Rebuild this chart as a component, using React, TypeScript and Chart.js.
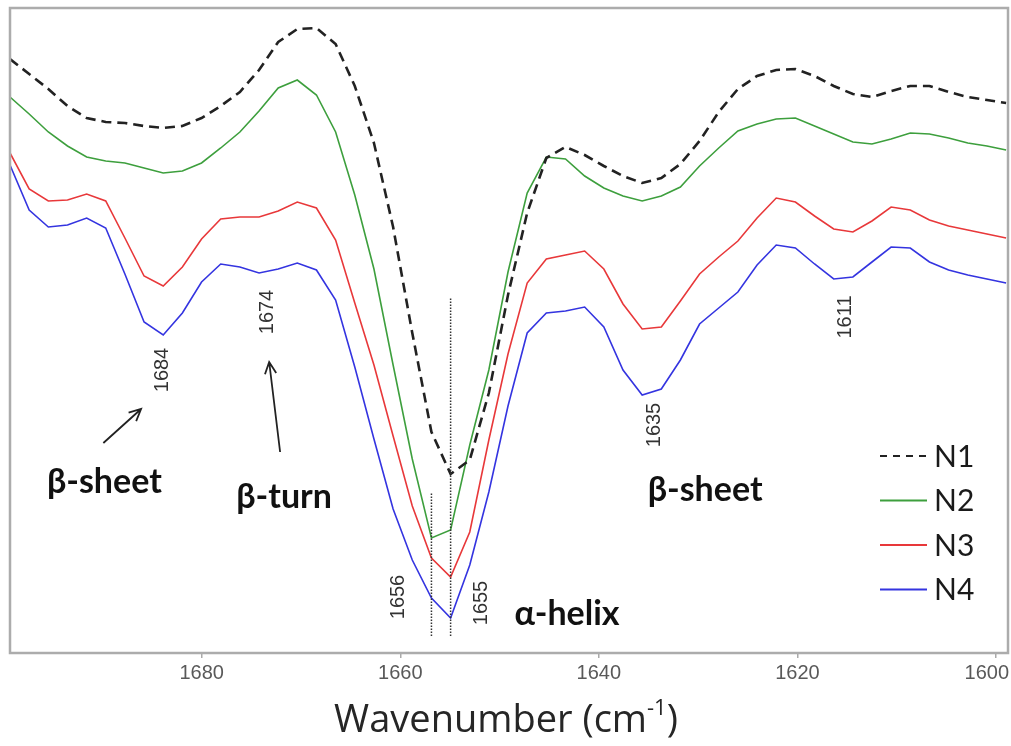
import React, { useEffect, useRef } from 'react';
import { Chart, registerables } from 'chart.js';

Chart.register(...registerables);

// Wavenumber grid (cm-1)
const wavenumbers = [
  1699.30, 1697.37, 1695.44, 1693.51, 1691.58, 1689.66, 1687.73, 1685.80, 1683.87, 1681.94,
  1680.01, 1678.08, 1676.15, 1674.22, 1672.29, 1670.37, 1668.44, 1666.51, 1664.58, 1662.65,
  1660.72, 1658.79, 1656.86, 1654.93, 1653.00, 1651.08, 1649.15, 1647.22, 1645.29, 1643.36,
  1641.43, 1639.50, 1637.57, 1635.64, 1633.71, 1631.79, 1629.86, 1627.93, 1626.00, 1624.07,
  1622.14, 1620.21, 1618.28, 1616.35, 1614.42, 1612.50, 1610.57, 1608.64, 1606.71, 1604.78,
  1602.85, 1600.92, 1598.99,
];

// Second-derivative style intensities (arbitrary units)
const n1 = [
  594, 579, 564, 547, 535, 531, 530, 527, 525, 527,
  535, 547, 561, 583, 611, 624, 625, 609, 567, 510,
  426, 320, 221, 179, 193, 260, 358, 440, 495, 506,
  498, 487, 477, 470, 475, 489, 512, 541, 564, 577,
  583, 584, 577, 567, 559, 556, 562, 567, 567, 561,
  556, 553, 550,
];
const n2 = [
  556, 539, 521, 507, 496, 492, 490, 485, 480, 482,
  490, 505, 521, 542, 565, 573, 558, 521, 458, 384,
  288, 194, 115, 123, 208, 283, 381, 460, 496, 494,
  477, 465, 457, 452, 457, 466, 487, 505, 522, 529,
  534, 535, 527, 519, 511, 509, 514, 520, 519, 515,
  510, 507, 503,
];
const n3 = [
  500, 464, 452, 453, 459, 452, 415, 377, 367, 386,
  414, 434, 436, 436, 442, 451, 445, 413, 350, 288,
  217, 147, 95, 76, 121, 213, 299, 370, 394, 398,
  402, 384, 349, 324, 326, 352, 379, 396, 412, 435,
  455, 451, 437, 424, 421, 432, 446, 443, 433, 427,
  423, 419, 415,
];
const n4 = [
  488, 443, 426, 428, 435, 425, 379, 331, 318, 340,
  371, 389, 386, 380, 384, 390, 383, 353, 286, 214,
  144, 93, 55, 35, 88, 161, 247, 320, 340, 342,
  346, 326, 283, 258, 264, 293, 329, 345, 361, 388,
  408, 405, 389, 374, 376, 391, 406, 405, 391, 383,
  378, 374, 370,
];

const seriesLabels = ['N1', 'N2', 'N3', 'N4'];
const xTicks = [1680, 1660, 1640, 1620, 1600];
const peakLabels = ['1684', '1674', '1656', '1655', '1635', '1611'];
const regionLabels = ['β-sheet', 'β-turn', 'α-helix', 'β-sheet'];

const peakPos = [
  [1683.9, 283], [1673.4, 341], [1660.2, 56], [1651.8, 50], [1634.4, 228], [1615.2, 336],
];
const regionPos = [
  [1689.8, 171], [1671.7, 156], [1643.2, 39], [1629.3, 163],
];
const arrows = [
  [1689.9, 210, 1686.1, 244],
  [1672.1, 201, 1673.2, 291],
];
const dottedLines = [
  [1656.86, 17, 161],
  [1654.93, 17, 356],
];

const colors = ['#222222', '#3d9f3d', '#e8383a', '#3434e0'];

const annotPlugin = {
  id: 'annot',
  afterDraw(chart: any) {
    const { ctx, chartArea } = chart;
    const xs = chart.scales.x;
    const ys = chart.scales.y;
    const px = (v: number) => xs.getPixelForValue(v);
    const py = (v: number) => ys.getPixelForValue(v);
    ctx.save();

    // frame
    ctx.strokeStyle = '#acacac';
    ctx.lineWidth = 2.5;
    ctx.strokeRect(chartArea.left, chartArea.top, chartArea.right - chartArea.left, chartArea.bottom - chartArea.top);

    // x tick labels (kept inside the canvas)
    ctx.fillStyle = '#595959';
    ctx.font = '20px "Liberation Sans", Arial, sans-serif';
    ctx.textAlign = 'center';
    ctx.textBaseline = 'top';
    xTicks.forEach((v) => {
      const t = String(v);
      const w = ctx.measureText(t).width;
      let cx = px(v);
      if (cx + w / 2 > chart.width - 2) cx = chart.width - 2 - w / 2;
      ctx.fillText(t, cx, chartArea.bottom + 10);
    });

    // dotted lines
    ctx.strokeStyle = '#333';
    ctx.lineWidth = 1.5;
    ctx.setLineDash([1.5, 1.5]);
    dottedLines.forEach(([x, y0, y1]) => {
      ctx.beginPath();
      ctx.moveTo(px(x), py(y0));
      ctx.lineTo(px(x), py(y1));
      ctx.stroke();
    });
    ctx.setLineDash([]);

    // peak labels (rotated)
    ctx.fillStyle = '#333';
    ctx.font = '20px "Liberation Sans", Arial, sans-serif';
    ctx.textAlign = 'center';
    ctx.textBaseline = 'middle';
    peakLabels.forEach((t, i) => {
      ctx.save();
      ctx.translate(px(peakPos[i][0]), py(peakPos[i][1]));
      ctx.rotate(-Math.PI / 2);
      ctx.fillText(t, 0, 0);
      ctx.restore();
    });

    // region labels
    ctx.fillStyle = '#111';
    ctx.font = 'bold 34px Lato, sans-serif';
    regionLabels.forEach((t, i) => {
      ctx.fillText(t, px(regionPos[i][0]), py(regionPos[i][1]));
    });

    // arrows
    ctx.strokeStyle = '#222';
    ctx.lineWidth = 1.8;
    arrows.forEach(([x0, y0, x1, y1]) => {
      const ax = px(x0), ay = py(y0), bx = px(x1), by = py(y1);
      ctx.beginPath();
      ctx.moveTo(ax, ay);
      ctx.lineTo(bx, by);
      const ang = Math.atan2(by - ay, bx - ax);
      const L = 13;
      ctx.moveTo(bx - L * Math.cos(ang - 0.45), by - L * Math.sin(ang - 0.45));
      ctx.lineTo(bx, by);
      ctx.lineTo(bx - L * Math.cos(ang + 0.45), by - L * Math.sin(ang + 0.45));
      ctx.stroke();
    });

    // legend
    const lx0 = chartArea.right - 128;
    const lx1 = chartArea.right - 81;
    const tx = chartArea.right - 74;
    let ly = chartArea.bottom - 197;
    ctx.textAlign = 'left';
    ctx.font = '30px Lato, sans-serif';
    chart.data.datasets.forEach((ds: any) => {
      ctx.strokeStyle = ds.borderColor;
      ctx.lineWidth = 2;
      ctx.setLineDash(ds.borderDash ? [7, 6] : []);
      ctx.beginPath();
      ctx.moveTo(lx0, ly);
      ctx.lineTo(lx1, ly);
      ctx.stroke();
      ctx.setLineDash([]);
      ctx.fillStyle = '#1a1a1a';
      ctx.fillText(ds.label, tx, ly + 1);
      ly += 44.5;
    });

    // axis title
    const cx = (chartArea.left + chartArea.right) / 2 - 3;
    const base = chart.height - 14;
    ctx.fillStyle = '#262626';
    const mainFont = '38px "Open Sans", sans-serif';
    const supFont = '22px "Open Sans", sans-serif';
    ctx.font = mainFont;
    const main = 'Wavenumber (cm';
    const sup = '-1';
    const end = ')';
    const w1 = ctx.measureText(main).width;
    const w3 = ctx.measureText(end).width;
    ctx.font = supFont;
    const w2 = ctx.measureText(sup).width;
    const total = w1 + w2 + w3;
    let sx = cx - total / 2;
    ctx.textBaseline = 'alphabetic';
    ctx.font = mainFont;
    ctx.fillText(main, sx, base);
    sx += w1;
    ctx.font = supFont;
    ctx.fillText(sup, sx, base - 17);
    sx += w2;
    ctx.font = mainFont;
    ctx.fillText(end, sx, base);

    ctx.restore();
  },
};

export default function App() {
  const ref = useRef<HTMLCanvasElement>(null);
  useEffect(() => {
    if (!ref.current) return;
    const series = [n1, n2, n3, n4];
    const chart = new Chart(ref.current, {
      type: 'line',
      data: {
        datasets: series.map((s, k) => ({
          label: seriesLabels[k],
          data: wavenumbers.map((x, i) => ({ x, y: s[i] })),
          borderColor: colors[k],
          borderWidth: k === 0 ? 2.6 : 1.6,
          borderDash: k === 0 ? [10, 6] : undefined,
          pointRadius: 0,
          tension: 0,
          fill: false,
        })),
      },
      options: {
        animation: false,
        responsive: false,
        devicePixelRatio: 1,
        layout: { padding: { left: 10, right: 3, top: 8, bottom: 0 } },
        plugins: { legend: { display: false }, tooltip: { enabled: false } },
        scales: {
          x: {
            type: 'linear',
            reverse: true,
            min: 1598.8,
            max: 1699.3,
            afterBuildTicks: (s: any) => {
              s.ticks = xTicks.map((v) => ({ value: v }));
            },
            afterFit: (s: any) => {
              s.height = 93;
              s.paddingLeft = 0;
              s.paddingRight = 0;
            },
            ticks: {
              display: false,
              autoSkip: false,
            },
            grid: { drawOnChartArea: false, drawTicks: true, tickLength: 5, color: '#aaaaaa', lineWidth: 1.5 },
            border: { display: false },
          },
          y: { display: false, min: 0, max: 645 },
        },
      },
      plugins: [annotPlugin],
    });
    return () => chart.destroy();
  }, []);
  return (
    <div style={{ position: 'absolute', left: 0, top: 0, width: 1011, height: 746, background: '#fff' }}>
      <canvas ref={ref} width={1011} height={746} />
    </div>
  );
}
